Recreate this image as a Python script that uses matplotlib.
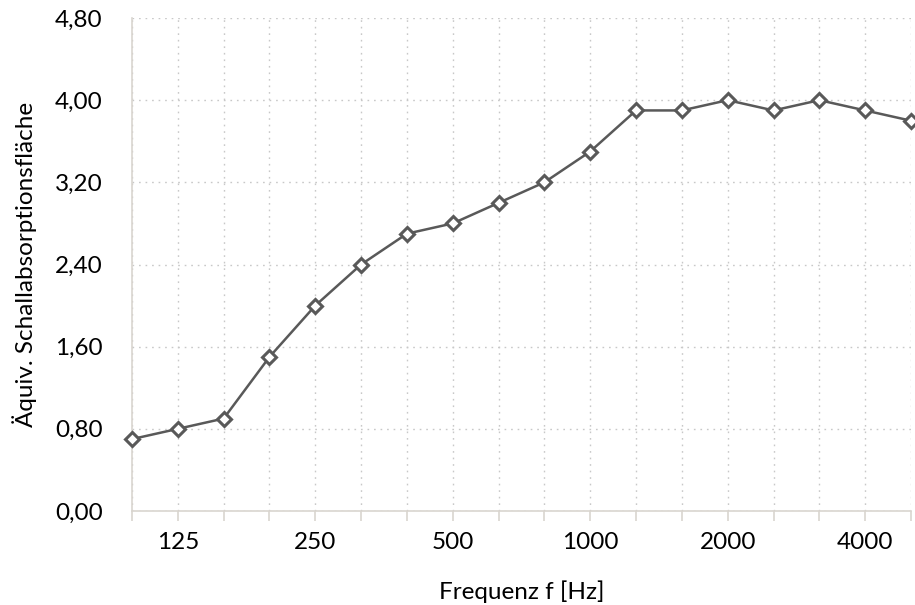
import matplotlib
matplotlib.use("Agg")
import matplotlib.pyplot as plt
from matplotlib.ticker import FuncFormatter

plt.rcParams['font.family'] = ['Lato', 'DejaVu Sans']

frequencies = [100, 125, 160, 200, 250, 315, 400, 500, 630, 800, 1000,
               1250, 1600, 2000, 2500, 3150, 4000, 5000]
absorption = [0.70, 0.80, 0.90, 1.50, 2.00, 2.40, 2.70, 2.80, 3.00, 3.20, 3.50,
              3.90, 3.90, 4.00, 3.90, 4.00, 3.90, 3.80]
labeled_freqs = [125, 250, 500, 1000, 2000, 4000]
y_ticks = [0.0, 0.8, 1.6, 2.4, 3.2, 4.0, 4.8]

FS = 17.5

fig = plt.figure(figsize=(9.15, 6.05), dpi=100)
ax = fig.add_axes([132/915, 1-511/605, (911-132)/915, (511-18)/605])

xs = list(range(len(frequencies)))
ax.plot(xs, absorption, color='#595959', lw=1.8, marker='D', ms=7.5,
        mfc='white', mec='#595959', mew=2.2, zorder=3, clip_on=False)

ax.set_xlim(0, len(frequencies) - 1)
ax.set_ylim(0, 4.8)
ax.set_yticks(y_ticks)
ax.yaxis.set_major_formatter(FuncFormatter(lambda v, p: f"{v:.2f}".replace('.', ',')))

ax.set_xticks(xs)
ax.set_xticklabels([str(f) if f in labeled_freqs else '' for f in frequencies])

for s in ['top', 'right']:
    ax.spines[s].set_visible(False)
for s in ['left', 'bottom']:
    ax.spines[s].set_color('#d9d5cf')
    ax.spines[s].set_linewidth(1.2)

ax.tick_params(axis='x', length=7, color='#d9d5cf', width=1.2, labelsize=FS,
               pad=8, direction='out')
ax.tick_params(axis='y', length=0, labelsize=FS, pad=21)

ax.grid(True, which='major', axis='both', color='#c8c8c8', linestyle=(0, (1.2, 3.5)),
        lw=1.0)
ax.set_axisbelow(True)

ax.set_xlabel('Frequenz f [Hz]', fontsize=FS)
ax.set_ylabel('Äquiv. Schallabsorptionsfläche', fontsize=FS)
ax.xaxis.set_label_coords(0.5, -(592 - 511) / (511 - 18))
ax.xaxis.label.set_va('center')
ax.yaxis.set_label_coords(-(132 - 25) / (911 - 132), 0.5)
ax.yaxis.label.set_va('center')

fig.savefig('out.png', dpi=100)
